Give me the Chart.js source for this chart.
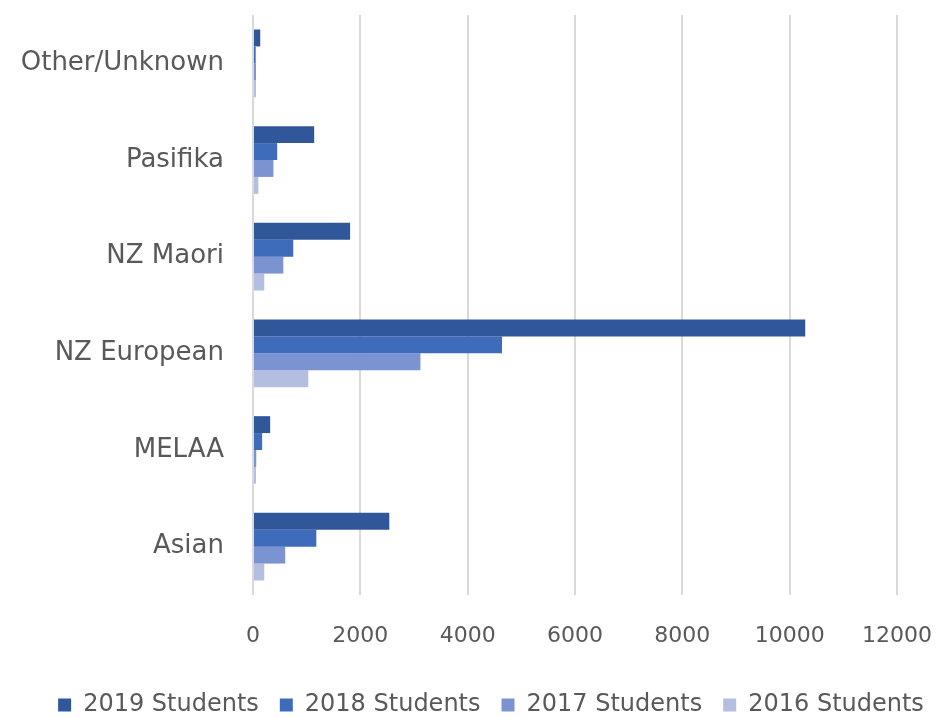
<!DOCTYPE html>
<html>
<head>
<meta charset="utf-8">
<script src="https://cdn.jsdelivr.net/npm/chart.js@4"></script>
<style>
html,body{margin:0;padding:0;background:#fff;}
#wrap{width:942px;height:718px;position:relative;}
</style>
</head>
<body>
<div id="wrap"><canvas id="c" width="942" height="718"></canvas></div>
<script>
const categories = ["Other/Unknown", "Pasifika", "NZ Maori", "NZ European", "MELAA", "Asian"];
const seriesNames = ["2019 Students", "2018 Students", "2017 Students", "2016 Students"];
const students2019 = [135, 1140, 1810, 10290, 320, 2540];
const students2018 = [50, 450, 750, 4640, 170, 1180];
const students2017 = [55, 380, 565, 3120, 60, 600];
const students2016 = [55, 100, 210, 1030, 55, 210];
const xTicks = [0, 2000, 4000, 6000, 8000, 10000, 12000];
const colors = ["#30579A", "#3F6BBB", "#7B93D1", "#B3BEE1"];

const seriesValues = [students2019, students2018, students2017, students2016];
const textColor = "#595959";

const legendShift = {
  id: "legendShift",
  afterLayout(chart) {
    if (chart.legend) { chart.legend.left += 20; chart.legend.right += 20; }
  }
};

new Chart(document.getElementById("c"), {
  type: "bar",
  data: {
    labels: categories,
    datasets: seriesNames.map((n, i) => ({
      label: n,
      data: seriesValues[i],
      backgroundColor: colors[i],
      borderWidth: 0,
      categoryPercentage: 0.7,
      barPercentage: 1.0
    }))
  },
  plugins: [legendShift],
  options: {
    indexAxis: "y",
    responsive: false,
    animation: false,
    devicePixelRatio: 1,
    layout: { padding: { top: 15, right: 0, left: 0, bottom: -9 } },
    scales: {
      x: {
        min: 0, max: 12000,
        afterBuildTicks: (s) => { s.ticks = xTicks.map(v => ({ value: v })); },
        grid: { color: "#D9D9D9", lineWidth: 2, drawTicks: false },
        border: { display: false },
        ticks: { color: textColor, font: { family: "DejaVu Sans", size: 22 }, padding: 28,
                 callback: (v) => String(v) },
        afterFit: (s) => { s.height = 77; s.paddingLeft = 0; s.paddingRight = 45; }
      },
      y: {
        grid: { display: false },
        border: { display: false },
        ticks: { color: textColor, font: { family: "DejaVu Sans", size: 26 }, padding: 21 },
        afterFit: (s) => { s.width = 253; s.paddingTop = 0; s.paddingBottom = 0; }
      }
    },
    plugins: {
      legend: {
        position: "bottom",
        labels: {
          color: textColor,
          font: { family: "DejaVu Sans", size: 24 },
          boxWidth: 13, boxHeight: 13,
          padding: 21
        }
      },
      tooltip: { enabled: false }
    }
  }
});
</script>
</body>
</html>
